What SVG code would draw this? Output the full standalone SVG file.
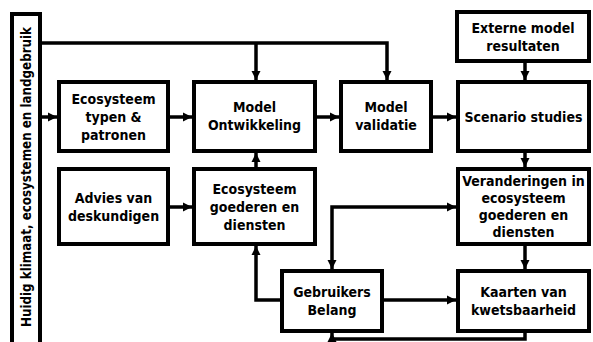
<svg xmlns="http://www.w3.org/2000/svg" width="593" height="342" viewBox="0 0 593 342">
<style>
.box{fill:#fff;stroke:#000;stroke-width:4}
.t{font-family:"Liberation Sans Narrow","DejaVu Sans Condensed","Liberation Sans",sans-serif;font-weight:bold;font-size:14px;fill:#000;text-anchor:middle;dominant-baseline:central}
.c{fill:none;stroke:#000;stroke-width:3.5}
</style>
<defs>
<marker id="ah" markerUnits="userSpaceOnUse" markerWidth="10" markerHeight="10" refX="9" refY="5" orient="auto" viewBox="0 0 10 10">
<path d="M0,0.5 L9,5 L0,9.5 Z" fill="#000"/>
</marker>
<marker id="as" markerUnits="userSpaceOnUse" markerWidth="10" markerHeight="10" refX="9" refY="5" orient="auto-start-reverse" viewBox="0 0 10 10">
<path d="M0,0.5 L9,5 L0,9.5 Z" fill="#000"/>
</marker>
</defs>
<rect width="593" height="342" fill="#fff"/>
<g id="connectors">
<path class="c" d="M42,117 H57" marker-end="url(#ah)"/>
<path class="c" d="M42,43 H387 V80" marker-end="url(#ah)"/>
<path class="c" d="M256,43 V80" marker-end="url(#ah)"/>
<path class="c" d="M170,117 H192" marker-end="url(#ah)"/>
<path class="c" d="M317,117 H339" marker-end="url(#ah)"/>
<path class="c" d="M433,117 H456" marker-end="url(#ah)"/>
<path class="c" d="M525,63 V80" marker-end="url(#ah)"/>
<path class="c" d="M525,153 V167" marker-end="url(#ah)"/>
<path class="c" d="M525,246 V269" marker-end="url(#ah)"/>
<path class="c" d="M256,167 V153" marker-end="url(#ah)"/>
<path class="c" d="M170,207 H192" marker-end="url(#ah)"/>
<path class="c" d="M332,269 V207 H456" marker-start="url(#as)" marker-end="url(#ah)"/>
<path class="c" d="M280,300 H256 V246" marker-end="url(#ah)"/>
<path class="c" d="M384,300 H456" marker-end="url(#ah)"/>
<path class="c" d="M525,333 V339 H332 V333" marker-end="url(#ah)"/>
</g>
<g id="huidig">
<rect class="box" x="12" y="14" width="28" height="335"/>
<text class="t" transform="translate(26,177) rotate(-90)" textLength="300" lengthAdjust="spacingAndGlyphs">Huidig klimaat, ecosystemen en landgebruik</text>
</g>
<g id="eco-typen">
<rect class="box" x="59" y="82" width="109" height="69"/>
<text class="t" x="113.5" y="99">Ecosysteem</text>
<text class="t" x="113.5" y="117">typen &amp;</text>
<text class="t" x="113.5" y="135">patronen</text>
</g>
<g id="model-ontwikkeling">
<rect class="box" x="194" y="82" width="121" height="69"/>
<text class="t" x="254.5" y="107">Model</text>
<text class="t" x="254.5" y="125">Ontwikkeling</text>
</g>
<g id="model-validatie">
<rect class="box" x="341" y="82" width="90" height="69"/>
<text class="t" x="386" y="107">Model</text>
<text class="t" x="386" y="125">validatie</text>
</g>
<g id="externe">
<rect class="box" x="457" y="12" width="132" height="49"/>
<text class="t" x="523" y="28">Externe model</text>
<text class="t" x="523" y="46">resultaten</text>
</g>
<g id="scenario">
<rect class="box" x="458" y="82" width="131" height="69"/>
<text class="t" x="523.5" y="117">Scenario studies</text>
</g>
<g id="advies">
<rect class="box" x="59" y="169" width="109" height="75"/>
<text class="t" x="113.5" y="198">Advies van</text>
<text class="t" x="113.5" y="216">deskundigen</text>
</g>
<g id="eco-goederen">
<rect class="box" x="194" y="169" width="121" height="75"/>
<text class="t" x="254.5" y="189">Ecosysteem</text>
<text class="t" x="254.5" y="207">goederen en</text>
<text class="t" x="254.5" y="225">diensten</text>
</g>
<g id="veranderingen">
<rect class="box" x="458" y="169" width="131" height="75"/>
<text class="t" x="523.5" y="181">Veranderingen in</text>
<text class="t" x="523.5" y="198">ecosysteem</text>
<text class="t" x="523.5" y="215">goederen en</text>
<text class="t" x="523.5" y="232">diensten</text>
</g>
<g id="gebruikers">
<rect class="box" x="282" y="271" width="100" height="60"/>
<text class="t" x="332" y="292">Gebruikers</text>
<text class="t" x="332" y="310">Belang</text>
</g>
<g id="kaarten">
<rect class="box" x="458" y="271" width="131" height="60"/>
<text class="t" x="523.5" y="292">Kaarten van</text>
<text class="t" x="523.5" y="310">kwetsbaarheid</text>
</g>
</svg>
